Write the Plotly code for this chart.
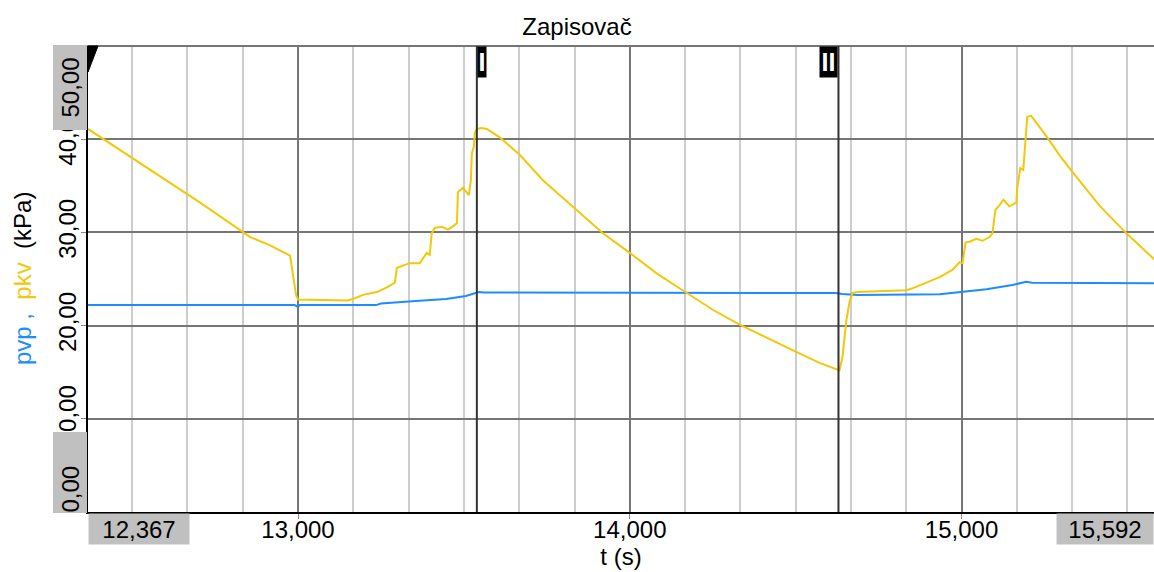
import plotly.graph_objects as go

# ---------------- data ----------------
t_pkv = [12367, 12554, 12705, 12856, 12916, 12976, 12985, 12994, 13000, 13148,
         13166, 13196, 13238, 13268, 13292, 13298, 13337, 13367, 13388, 13397,
         13403, 13413, 13434, 13452, 13473, 13479, 13482, 13497, 13515, 13521,
         13524, 13530, 13533, 13539, 13554, 13569, 13608, 13669, 13738, 13798,
         13840, 13919, 14000, 14081, 14172, 14250, 14331, 14422, 14500, 14572,
         14632, 14641, 14653, 14662, 14671, 14686, 14834, 14852, 14894, 14934,
         14973, 14994, 15003, 15012, 15024, 15045, 15063, 15084, 15093, 15102,
         15114, 15126, 15144, 15165, 15168, 15177, 15186, 15192, 15198, 15210,
         15225, 15256, 15295, 15334, 15415, 15497, 15575, 15592]
pkv = [41.1, 36.7, 33.2, 29.5, 28.6, 27.5, 25.4, 23.3, 22.8, 22.7,
       22.85, 23.3, 23.6, 24.1, 24.6, 26.2, 26.7, 26.7, 27.8, 27.6,
       29.9, 30.5, 30.6, 30.3, 30.8, 31.0, 34.3, 34.8, 34.0, 35.6,
       38.5, 39.2, 40.7, 41.1, 41.2, 41.1, 40.2, 38.3, 35.6, 33.7,
       32.4, 29.9, 27.8, 25.6, 23.5, 21.7, 20.1, 18.5, 17.2, 16.0,
       15.2, 16.6, 20.6, 22.5, 23.5, 23.6, 23.8, 24.0, 24.6, 25.2,
       26.0, 26.8, 26.7, 28.9, 29.0, 29.3, 29.1, 29.5, 29.9, 32.4,
       32.9, 33.5, 32.8, 33.2, 34.8, 36.9, 36.7, 39.9, 42.4, 42.5,
       41.8, 40.3, 38.3, 36.5, 32.9, 29.9, 27.3, 26.7]

t_pvp = [12367, 12990, 13000, 13005, 13235, 13250, 13355, 13446, 13506, 13536,
         13545, 13560, 14000, 14620, 14640, 14686, 14934, 14994, 15075, 15153,
         15195, 15213, 15592]
pvp = [22.2, 22.2, 22.0, 22.2, 22.2, 22.37, 22.64, 22.85, 23.18, 23.5,
       23.6, 23.55, 23.5, 23.5, 23.4, 23.28, 23.36, 23.57, 23.9, 24.36,
       24.7, 24.6, 24.55]

cursor_t = [13539, 14629]
cursor_labels = ["I", "II"]

x_ticks = [13000, 14000, 15000]
x_ticklabels = ["13,000", "14,000", "15,000"]
y_ticks = [10, 20, 30, 40]
y_ticklabels = ["10,00", "20,00", "30,00", "40,00"]
x_start_label, x_end_label = "12,367", "15,592"
y_min_label, y_max_label = "0,00", "50,00"
x_range = [12367, 15580]
y_range = [0, 50]

# ---------------- layout helpers ----------------
W, H = 1154, 572
L, R, T, B = 88, 0, 46, 60
PW, PH = W - L - R, H - T - B
FONT = "Liberation Sans, Arial, sans-serif"
BLUE = "#1E8BFF"
YELLOW = "#F2C80A"
GRAYBOX = "#C0C0C0"
MAJOR = "#767676"
MINOR = "#CDCDCD"


def px(x):
    return (x - L) / PW


def py(y):
    return (H - B - y) / PH


fig = go.Figure()
fig.add_trace(go.Scatter(x=t_pvp, y=pvp, mode="lines", name="pvp",
                         line=dict(color=BLUE, width=2)))
fig.add_trace(go.Scatter(x=t_pkv, y=pkv, mode="lines", name="pkv",
                         line=dict(color=YELLOW, width=2)))

fig.update_layout(
    width=W, height=H,
    margin=dict(l=L, r=R, t=T, b=B, pad=0, autoexpand=False),
    paper_bgcolor="white", plot_bgcolor="white",
    showlegend=False,
    font=dict(family=FONT, size=24, color="black"),
    title=dict(text="Zapisovač", x=0.5, xref="container", xanchor="center",
               y=1 - 27 / H, yref="container", yanchor="middle",
               font=dict(family=FONT, size=24, color="black")),
)

fig.update_xaxes(
    range=x_range, tickmode="array", tickvals=x_ticks, ticktext=x_ticklabels,
    automargin=False,
    showgrid=True, gridcolor=MAJOR, gridwidth=2, zeroline=False,
    showline=True, linecolor="black", linewidth=2,
    ticks="outside", ticklen=5, tickcolor="#888888", tickwidth=1,
    ticklabelstandoff=-10,
    tickfont=dict(family=FONT, size=24, color="black"),
    minor=dict(tickmode="linear", tick0=13000, dtick=1000 / 6, showgrid=True,
               gridcolor=MINOR, gridwidth=2, ticks=""),
    title=dict(text="t (s)", font=dict(family=FONT, size=24, color="black"),
               standoff=5),
)
fig.update_yaxes(
    range=y_range, tickmode="array", tickvals=y_ticks, ticktext=y_ticklabels,
    automargin=False,
    tickangle=-90,
    showgrid=True, gridcolor=MAJOR, gridwidth=2, zeroline=False,
    showline=True, linecolor="black", linewidth=2,
    ticks="outside", ticklen=5, tickcolor="#888888", tickwidth=1,
    ticklabelstandoff=-5,
    tickfont=dict(family=FONT, size=24, color="black"),
)

shapes = []
# top border (50 kPa line)
shapes.append(dict(type="line", xref="paper", yref="paper", x0=0, x1=1, y0=1, y1=1,
                   line=dict(color=MAJOR, width=2), layer="above"))
# cursor lines
for ct in cursor_t:
    shapes.append(dict(type="line", xref="x", yref="paper", x0=ct, x1=ct, y0=0, y1=1,
                       line=dict(color="#333333", width=2), layer="above"))
# black triangle at top-left of y-axis
shapes.append(dict(type="path", xref="paper", yref="paper",
                   path=f"M {px(86)},{py(46)} L {px(98)},{py(46)} L {px(88)},{py(72)} Z",
                   fillcolor="black", line=dict(color="black", width=1), layer="above"))
fig.update_layout(shapes=shapes)

ann = []
# cursor label boxes
for ct, lab in zip(cursor_t, cursor_labels):
    ann.append(dict(x=ct, xref="x", y=1, yref="paper", text=f"<b>{lab}</b>",
                    xanchor="left" if lab == "I" else "right", yanchor="top",
                    showarrow=False, bgcolor="black", borderpad=0,
                    width=8 if lab == "I" else 17, height=30,
                    font=dict(family=FONT, size=25, color="white")))
# x end labels with grey boxes
ann.append(dict(x=px(88), xref="paper", y=py(513), yref="paper", text=x_start_label,
                xanchor="left", yanchor="top", showarrow=False, bgcolor=GRAYBOX,
                borderpad=0, width=100, height=30,
                font=dict(family=FONT, size=24, color="black")))
ann.append(dict(x=1, xref="paper", y=py(513), yref="paper", text=x_end_label,
                xanchor="right", yanchor="top", showarrow=False, bgcolor=GRAYBOX,
                borderpad=0, width=96, height=30,
                font=dict(family=FONT, size=24, color="black")))
# y end labels with grey boxes (rotated)
ann.append(dict(x=px(69.5), xref="paper", y=py(88), yref="paper", text=y_max_label,
                xanchor="center", yanchor="middle", showarrow=False, bgcolor=GRAYBOX,
                borderpad=0, width=84, height=33, textangle=-90,
                font=dict(family=FONT, size=24, color="black")))
ann.append(dict(x=px(69.5), xref="paper", y=py(473), yref="paper", text=y_min_label,
                xanchor="center", yanchor="middle", showarrow=False, bgcolor=GRAYBOX,
                borderpad=0, width=80, height=33, textangle=-90, align="left",
                font=dict(family=FONT, size=24, color="black")))
# y-axis title with coloured series names
ytitle = (f"<span style='color:{BLUE}'>pvp\u00a0,</span>\u00a0\u00a0"
          f"<span style='color:{YELLOW}'>pkv</span>\u00a0\u00a0(kPa)")
ann.append(dict(x=px(22), xref="paper", y=0.5, yref="paper", text=ytitle,
                xanchor="center", yanchor="middle", showarrow=False, textangle=-90,
                font=dict(family=FONT, size=24, color="black")))
fig.update_layout(annotations=ann)

fig.write_html("out.html",
               config={"displayModeBar": False},
               post_script="document.body.style.margin='0';document.body.style.overflow='hidden';")
